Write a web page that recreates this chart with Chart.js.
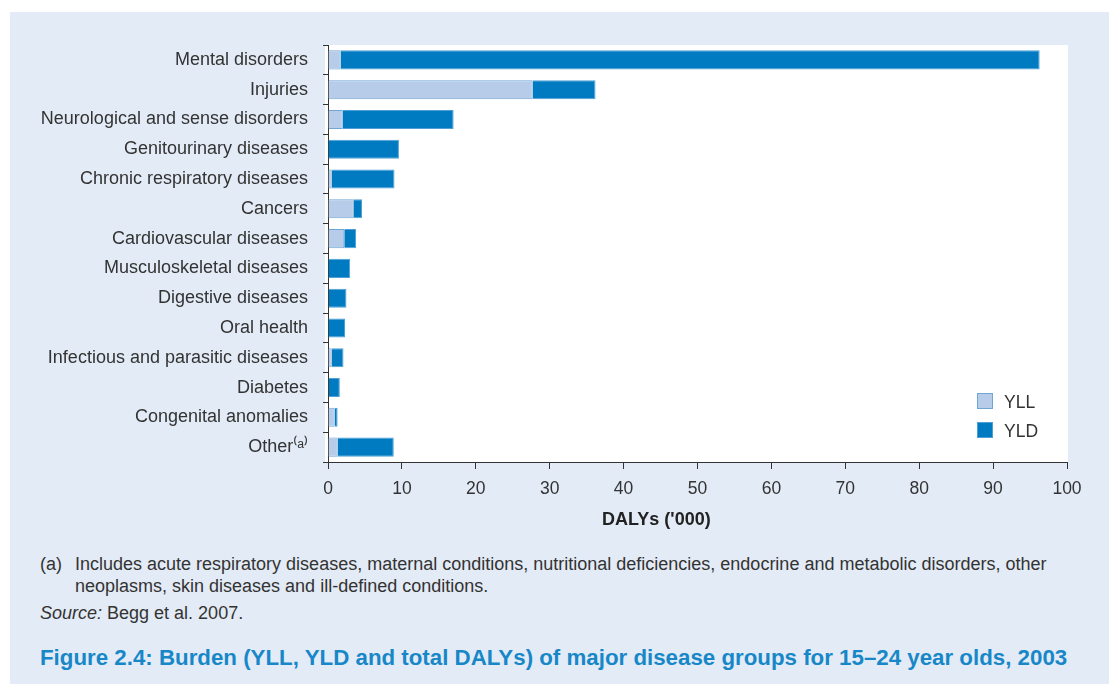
<!DOCTYPE html>
<html>
<head>
<meta charset="utf-8">
<script src="https://cdn.jsdelivr.net/npm/chart.js@4.4.1/dist/chart.umd.min.js"></script>
<style>
  html, body { margin: 0; padding: 0; background: #fff; }
  body { width: 1109px; height: 684px; position: relative; overflow: hidden; font-family: "Liberation Sans", Arial, sans-serif; }
  #panel { position: absolute; left: 10px; top: 12px; right: 0; bottom: 0; background: #e3ebf6; }
  #wrap { position: absolute; left: 0; top: 0; width: 1109px; height: 540px; }
  #legend { position: absolute; left: 977px; top: 393px; font-size: 17.5px; color: #333; }
  .item { height: 29px; display: flex; align-items: flex-start; }
  .box { width: 14px; height: 14px; margin-right: 11px; border: 1px solid #6fa6d6; }
  .item span { line-height: 18px; margin-top: 0px; }
  #xtitle { position: absolute; left: 602px; top: 509px; font-size: 18px; line-height: 21px; font-weight: bold; color: #222; white-space: nowrap; }
  .note { position: absolute; left: 40px; font-size: 18px; line-height: 21px; color: #333; white-space: nowrap; }
  #title { position: absolute; left: 40px; top: 645px; font-size: 22.3px; line-height: 25px; font-weight: bold; color: #1787c8; white-space: nowrap; }
</style>
</head>
<body>
<div id="panel"></div>
<div id="wrap"><canvas id="chart"></canvas></div>
<div id="legend"></div>
<div id="xtitle">DALYs ('000)</div>
<div class="note" style="top:554px">(a)</div>
<div class="note" style="top:554px; left:75px">Includes acute respiratory diseases, maternal conditions, nutritional deficiencies, endocrine and metabolic disorders, other</div>
<div class="note" style="top:576px; left:75px">neoplasms, skin diseases and ill-defined conditions.</div>
<div class="note" style="top:603px"><i>Source:</i> Begg et al. 2007.</div>
<div id="title">Figure 2.4: Burden (YLL, YLD and total DALYs) of major disease groups for 15–24 year olds, 2003</div>
<script>
// 질병군 (위에서 아래 순서)
const categories = [
    "Mental disorders",
    "Injuries",
    "Neurological and sense disorders",
    "Genitourinary diseases",
    "Chronic respiratory diseases",
    "Cancers",
    "Cardiovascular diseases",
    "Musculoskeletal diseases",
    "Digestive diseases",
    "Oral health",
    "Infectious and parasitic diseases",
    "Diabetes",
    "Congenital anomalies",
    "Other⁽ᵃ⁾"
];

// DALYs ('000)
const yllValues = [1.7, 27.7, 2.0, 0, 0.5, 3.5, 2.2, 0, 0.1, 0, 0.5, 0.1, 0.9, 1.3];
const yldValues = [94.6, 8.5, 15.0, 9.6, 8.5, 1.1, 1.6, 3.0, 2.4, 2.3, 1.6, 1.5, 0.4, 7.6];

const seriesNames = ["YLL", "YLD"];
const xTicks = [0, 10, 20, 30, 40, 50, 60, 70, 80, 90, 100];

const fillColors = ["#b7cce8", "#007bc2"];
const borderColors = ["#6fa6d6", "#4d9fd6"];

// 범례 (HTML)
const legendEl = document.getElementById("legend");
seriesNames.forEach((name, i) => {
    const row = document.createElement("div");
    row.className = "item";
    const box = document.createElement("div");
    box.className = "box";
    box.style.background = fillColors[i];
    box.style.borderColor = borderColors[i];
    const label = document.createElement("span");
    label.textContent = name;
    row.appendChild(box);
    row.appendChild(label);
    legendEl.appendChild(row);
});

// 플롯 영역 흰색 배경
const plotBackground = {
    id: "plotBackground",
    beforeDraw(chart) {
        const { ctx, chartArea } = chart;
        ctx.save();
        ctx.fillStyle = "#ffffff";
        ctx.fillRect(chartArea.left - 3, chartArea.top, chartArea.width + 4, chartArea.height);
        ctx.restore();
    }
};

const ctx = document.getElementById("chart").getContext("2d");

new Chart(ctx, {
    type: "bar",
    data: {
        labels: categories,
        datasets: [
            {
                label: seriesNames[0],
                data: yllValues,
                backgroundColor: fillColors[0],
                borderColor: borderColors[0],
                borderWidth: 1,
                barPercentage: 0.64,
                categoryPercentage: 1.0
            },
            {
                label: seriesNames[1],
                data: yldValues,
                backgroundColor: fillColors[1],
                borderColor: borderColors[1],
                borderWidth: 1,
                barPercentage: 0.64,
                categoryPercentage: 1.0
            }
        ]
    },
    options: {
        indexAxis: "y",
        responsive: true,
        maintainAspectRatio: false,
        animation: false,
        layout: {
            padding: { top: 45, right: 42, left: 0, bottom: 0 }
        },
        plugins: {
            legend: { display: false },
            tooltip: { enabled: false }
        },
        scales: {
            x: {
                stacked: true,
                min: 0,
                max: 100,
                afterBuildTicks: (scale) => {
                    scale.ticks = xTicks.map(v => ({ value: v }));
                },
                afterFit: (scale) => { scale.height = 78; },
                border: { color: "#333", width: 1 },
                grid: {
                    drawOnChartArea: false,
                    drawTicks: true,
                    tickLength: 7,
                    color: "#333"
                },
                ticks: {
                    padding: 10,
                    color: "#333",
                    font: { family: "Liberation Sans", size: 17.5 }
                }
            },
            y: {
                stacked: true,
                afterFit: (scale) => { scale.width = 328; },
                border: { color: "#333", width: 1 },
                grid: {
                    drawOnChartArea: false,
                    drawTicks: true,
                    tickLength: 5,
                    offset: true,
                    color: "#333"
                },
                ticks: {
                    padding: 15,
                    color: "#333",
                    font: { family: "Liberation Sans", size: 18 }
                }
            }
        }
    },
    plugins: [plotBackground]
});
</script>
</body>
</html>
